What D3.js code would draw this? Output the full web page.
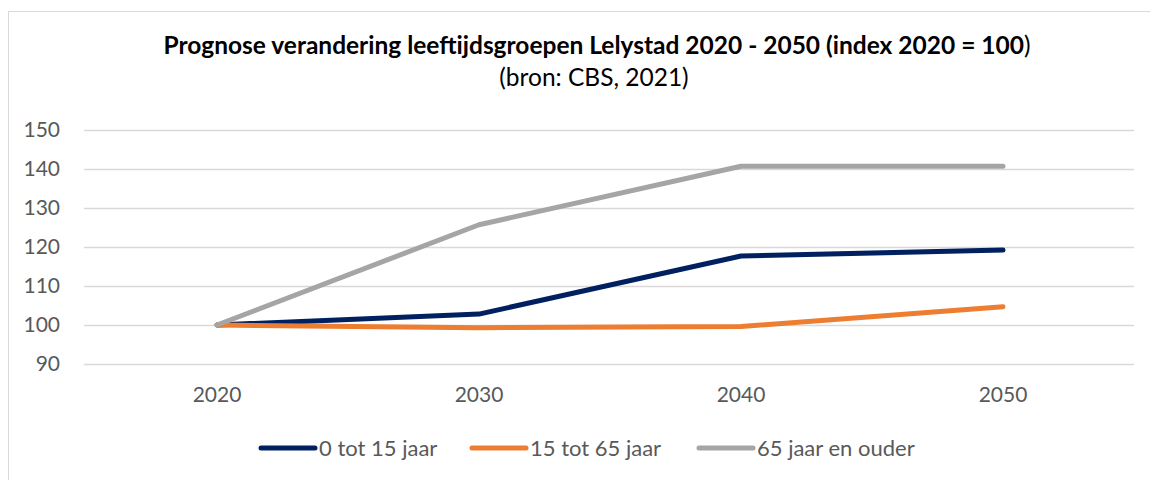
<!DOCTYPE html>
<html lang="nl">
<head>
    <meta charset="UTF-8">
    <title>Prognose leeftijdsgroepen Lelystad</title>
    <style>
        body { margin: 0; background: #fff; font-family: 'Lato', 'Open Sans', sans-serif; }
        #chart { width: 1150px; height: 480px; }
    </style>
</head>
<body>
<div id="chart"></div>
<script src="https://d3js.org/d3.v7.min.js"></script>
<script>
    // chart data
    const years = ["2020", "2030", "2040", "2050"];
    const kids = [100, 102.8, 117.7, 119.2];     // 0 tot 15 jaar
    const adults = [100, 99.3, 99.6, 104.7];     // 15 tot 65 jaar
    const elderly = [100, 125.7, 140.7, 140.7];  // 65 jaar en ouder
    const yTicks = [90, 100, 110, 120, 130, 140, 150];

    const series = [
        { name: "0 tot 15 jaar", values: kids, color: "#002060" },
        { name: "15 tot 65 jaar", values: adults, color: "#ED7D31" },
        { name: "65 jaar en ouder", values: elderly, color: "#A5A5A5" }
    ];

    const width = 1150, height = 480;
    const svg = d3.select("#chart").append("svg")
        .attr("width", width)
        .attr("height", height);

    // outer frame of the chart area
    svg.append("rect")
        .attr("x", 8.5).attr("y", 11.5)
        .attr("width", 1160).attr("height", 500)
        .attr("fill", "none")
        .attr("stroke", "#d9d9d9");

    const x = d3.scaleBand().domain(years).range([86, 1134]);
    const y = d3.scaleLinear().domain([90, 150]).range([364, 130]);

    // title
    const title = svg.append("text")
        .attr("x", 597).attr("y", 54)
        .attr("text-anchor", "middle")
        .attr("font-size", 24.5)
        .attr("fill", "#000");
    title.append("tspan").attr("font-weight", "bold")
        .text("Prognose verandering leeftijdsgroepen Lelystad 2020 - 2050 (index 2020 = 100");
    title.append("tspan").text(")");

    svg.append("text")
        .attr("x", 594).attr("y", 86)
        .attr("text-anchor", "middle")
        .attr("font-size", 24.5)
        .attr("fill", "#000")
        .text("(bron: CBS, 2021)");

    // gridlines + y labels
    const yAxis = svg.append("g")
        .attr("transform", "translate(84,0)")
        .call(d3.axisLeft(y).tickValues(yTicks).tickSize(-1050).tickPadding(24));
    yAxis.select(".domain").remove();
    yAxis.selectAll(".tick line").attr("stroke", "#d9d9d9").attr("stroke-width", 1.5);
    yAxis.selectAll(".tick text")
        .attr("fill", "#595959")
        .attr("font-size", 21)
        .attr("font-family", "Lato, sans-serif");

    // x labels
    const xAxis = svg.append("g")
        .attr("transform", "translate(0,364)")
        .call(d3.axisBottom(x).tickSize(0).tickPadding(23));
    xAxis.select(".domain").remove();
    xAxis.selectAll(".tick text")
        .attr("fill", "#595959")
        .attr("font-size", 21)
        .attr("font-family", "Lato, sans-serif");

    const line = d3.line()
        .x((d, i) => x(years[i]) + x.bandwidth() / 2)
        .y(d => y(d));

    // series order: navy, orange, grey on top (same as the original)
    series.forEach(s => {
        svg.append("path")
            .datum(s.values)
            .attr("d", line)
            .attr("fill", "none")
            .attr("stroke", s.color)
            .attr("stroke-width", 5)
            .attr("stroke-linecap", "round")
            .attr("stroke-linejoin", "round");
    });

    // legend
    const legendX = [261, 472, 699];
    const legend = svg.append("g");
    series.forEach((s, i) => {
        const g = legend.append("g").attr("transform", `translate(${legendX[i]},448)`);
        g.append("line")
            .attr("x1", 0).attr("x2", 54)
            .attr("stroke", s.color)
            .attr("stroke-width", 5)
            .attr("stroke-linecap", "round");
        g.append("text")
            .attr("x", 58).attr("dy", "0.35em")
            .attr("font-size", 22)
            .attr("fill", "#595959")
            .text(s.name);
    });
</script>
</body>
</html>
